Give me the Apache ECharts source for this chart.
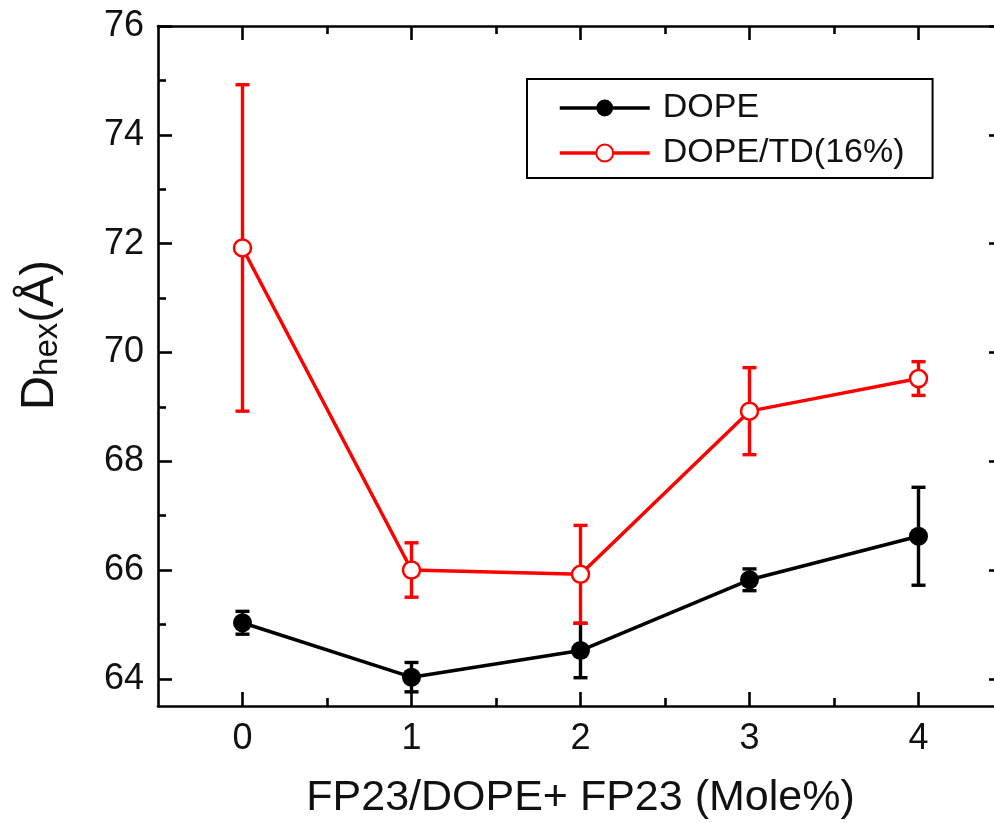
<!DOCTYPE html>
<html>
<head>
<meta charset="utf-8">
<script src="https://cdn.jsdelivr.net/npm/echarts@6/dist/echarts.min.js"></script>
<style>
  html, body { margin: 0; padding: 0; background: #fff; }
  #chart { width: 994px; height: 823px; }
</style>
</head>
<body>
<div id="chart"></div>
<script>
// FP23 mole fraction (x) and hexagonal lattice spacing D_hex in Å (y)
const xValues = [0, 1, 2, 3, 4];
const dope = [65.03, 64.03, 64.52, 65.82, 66.62];
const dopeErr = [0.21, 0.27, 0.5, 0.2, 0.9];
const dopeTd = [71.92, 66.0, 65.92, 68.92, 69.52];
const dopeTdErr = [3.0, 0.5, 0.9, 0.8, 0.31];

// Axis ticks and labels
const xTicks = [0, 1, 2, 3, 4];
const xMinorTicks = [0.5, 1.5, 2.5, 3.5];
const yTicks = [64, 66, 68, 70, 72, 74, 76];
const yMinorTicks = [65, 67, 69, 71, 73, 75];

const FONT = 'Liberation Sans, Arial, Helvetica, sans-serif';
const BLACK = '#000';
const RED = '#ff0000';

function pairs(ys) { return xValues.map((x, i) => [x, ys[i]]); }
function errRows(ys, es) { return xValues.map((x, i) => [x, ys[i] - es[i], ys[i] + es[i]]); }

function errorBarRenderer(color) {
  return function (params, api) {
    const x = api.value(0);
    const lo = api.coord([x, api.value(1)]);
    const hi = api.coord([x, api.value(2)]);
    const half = 7;
    const style = { stroke: color, lineWidth: 3.4 };
    return {
      type: 'group',
      children: [
        { type: 'line', shape: { x1: lo[0], y1: lo[1], x2: hi[0], y2: hi[1] }, style },
        { type: 'line', shape: { x1: lo[0] - half, y1: lo[1], x2: lo[0] + half, y2: lo[1] }, style },
        { type: 'line', shape: { x1: hi[0] - half, y1: hi[1], x2: hi[0] + half, y2: hi[1] }, style }
      ]
    };
  };
}

const axisLineStyle = { color: BLACK, width: 2.6 };

function xAxisDef(position, ticks, len, withLine, withLabels) {
  return {
    type: 'value', position, min: -0.5, max: 4.5,
    axisLine: { show: withLine, onZero: false, lineStyle: axisLineStyle },
    axisTick: { show: true, inside: true, length: len, customValues: ticks, lineStyle: { color: BLACK, width: 2.6 } },
    axisLabel: { show: withLabels, customValues: ticks, margin: 15, fontFamily: FONT, fontSize: 36, color: '#111' },
    splitLine: { show: false }
  };
}

function yAxisDef(position, ticks, len, withLine, withLabels) {
  return {
    type: 'value', position, min: 63.5, max: 76,
    axisLine: { show: withLine, onZero: false, lineStyle: axisLineStyle },
    axisTick: { show: true, inside: true, length: len, customValues: ticks, lineStyle: { color: BLACK, width: 2.6 } },
    axisLabel: { show: withLabels, customValues: ticks, margin: 14, fontFamily: FONT, fontSize: 36, color: '#111' },
    splitLine: { show: false }
  };
}

const xMain = xAxisDef('bottom', xTicks, 14, true, true);
xMain.name = 'FP23/DOPE+ FP23 (Mole%)';
xMain.nameLocation = 'middle';
xMain.nameGap = 71;
xMain.nameTextStyle = { fontFamily: FONT, fontSize: 43, color: '#111' };

const yMain = yAxisDef('left', yTicks, 14, true, true);
yMain.name = '{d|D}{sub|hex}{d|(Å)}';
yMain.nameLocation = 'middle';
yMain.nameRotate = 90;
yMain.nameGap = 94;
yMain.nameTextStyle = {
  padding: [0, 0, 0, 62],
  rich: {
    d: { fontFamily: FONT, fontSize: 47, lineHeight: 47, verticalAlign: 'top', color: '#111' },
    sub: { fontFamily: FONT, fontSize: 33, lineHeight: 10, padding: [45, 0, 0, 0], verticalAlign: 'bottom', color: '#111' }
  }
};

const chart = echarts.init(document.getElementById('chart'), null, { renderer: 'canvas' });
chart.setOption({
  backgroundColor: '#fff',
  animation: false,
  grid: { left: 158, top: 26, right: -9, bottom: 117, containLabel: false, outerBoundsMode: 'none' },
  xAxis: [
    xMain,
    xAxisDef('bottom', xMinorTicks, 8, false, false),
    xAxisDef('top', xTicks, 14, true, false),
    xAxisDef('top', xMinorTicks, 8, false, false)
  ],
  yAxis: [
    yMain,
    yAxisDef('left', yMinorTicks, 8, false, false),
    yAxisDef('right', yTicks, 14, true, false),
    yAxisDef('right', yMinorTicks, 8, false, false)
  ],
  legend: {
    data: ['DOPE', 'DOPE/TD(16%)'],
    orient: 'vertical',
    left: 527, top: 79,
    padding: [12, 28, 8, 31],
    itemGap: 11,
    itemWidth: 90,
    itemHeight: 21,
    borderColor: BLACK,
    borderWidth: 2,
    borderRadius: 0,
    backgroundColor: '#fff',
    lineStyle: { width: 3.5 },
    textStyle: { fontFamily: FONT, fontSize: 34, color: '#111', lineHeight: 34, padding: [0, 0, 0, 8] }
  },
  series: [
    {
      type: 'custom', name: 'DOPE err', z: 1,
      renderItem: errorBarRenderer(BLACK),
      encode: { x: 0, y: [1, 2] },
      data: errRows(dope, dopeErr)
    },
    {
      type: 'custom', name: 'DOPE/TD err', z: 1,
      renderItem: errorBarRenderer(RED),
      encode: { x: 0, y: [1, 2] },
      data: errRows(dopeTd, dopeTdErr)
    },
    {
      type: 'line', name: 'DOPE', z: 3,
      data: pairs(dope),
      symbol: 'circle', symbolSize: 19,
      lineStyle: { color: BLACK, width: 3.5 },
      itemStyle: { color: BLACK, borderColor: BLACK, borderWidth: 0 }
    },
    {
      type: 'line', name: 'DOPE/TD(16%)', z: 3,
      data: pairs(dopeTd),
      symbol: 'circle', symbolSize: 17,
      lineStyle: { color: RED, width: 3.5 },
      itemStyle: { color: '#fff', borderColor: RED, borderWidth: 2.5 }
    }
  ]
});
</script>
</body>
</html>
